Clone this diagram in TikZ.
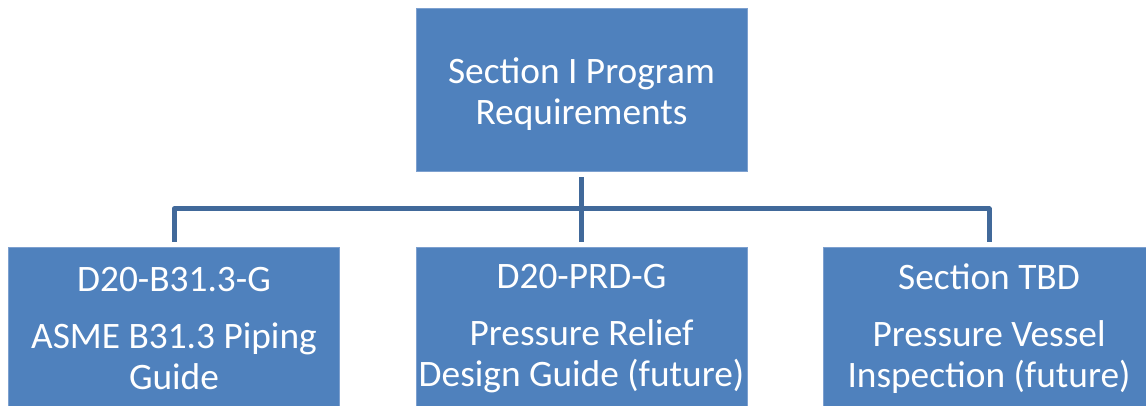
\documentclass[tikz,border=0pt]{standalone}
\usepackage{xcolor}
\usepackage{fontspec}
\setmainfont{Carlito}
\usepackage{tikz}

\definecolor{boxfill}{RGB}{79,129,189}
\definecolor{boxedge}{RGB}{125,160,207}
\definecolor{linkcol}{RGB}{65,105,154}

\tikzset{
  orgbox/.style={draw=boxedge, line width=0.6pt, fill=boxfill, text=white,
    minimum width=331*0.75pt, minimum height=163*0.75pt, inner sep=0pt,
    align=center, font=\fontsize{28}{30.75}\selectfont},
  link/.style={draw=linkcol, line width=3.75pt, line join=round}
}

\begin{document}
\begin{tikzpicture}[x=0.75pt,y=0.75pt,yscale=-1,xscale=1]
\useasboundingbox (0,0) rectangle (1146,406);

% Boxes
\node [orgbox] (prog) at (581.5,89.5) {\\[-4.5pt]Section I Program\\Requirements};
\node [orgbox] (piping) at (174,328.5) {D20-B31.3-G\\[12pt]ASME B31.3 Piping\\Guide};
\node [orgbox] (relief) at (581.5,328.5) {D20-PRD-G\\[12pt]Pressure Relief\\Design Guide (future)};
\node [orgbox] (vessel) at (989,328.5) {Section TBD\\[12pt]Pressure Vessel\\Inspection (future)};

% Connectors
\coordinate (bus) at (581.5,209);
\draw [link, shorten <=4.5pt, shorten >=3.75pt] (prog.south) -- (relief.north);
\draw [link, shorten >=3.75pt] (bus) -| (piping.north);
\draw [link, shorten >=3.75pt] (bus) -| (vessel.north);

\end{tikzpicture}
\end{document}
